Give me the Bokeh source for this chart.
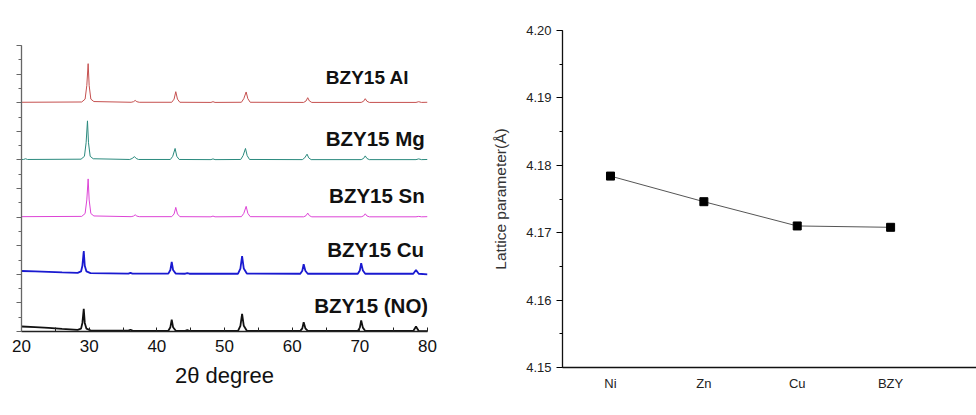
from bokeh.plotting import figure
from bokeh.layouts import row, column
from bokeh.models import Label, SingleIntervalTicker, FixedTicker, Range1d, CustomLabelingPolicy
from bokeh.embed import file_html
from bokeh.resources import INLINE

# ---------------- data: XRD patterns (2theta, intensity above own baseline) ----------------
tt_al = [20, 28.9, 29.4, 29.65, 29.85, 30.0, 30.25, 30.7, 36.2, 36.55, 36.8, 37.05, 37.4,
         42.2, 42.55, 42.8, 43.05, 43.4, 48.0, 48.3, 48.6, 52.5, 52.85, 53.2, 53.45, 53.8,
         61.7, 62.05, 62.3, 62.55, 62.9, 70.2, 70.55, 70.8, 71.05, 71.4, 78.3, 78.7, 79.1, 80]
int_al = [0.03, 0.05, 0.25, 1.2, 2.73, 1.2, 0.25, 0.08, 0.03, 0.07, 0.16, 0.07, 0.03,
          0.03, 0.25, 0.77, 0.25, 0.03, 0.02, 0.07, 0.02, 0.03, 0.28, 0.75, 0.28, 0.03,
          0.02, 0.12, 0.35, 0.12, 0.02, 0.02, 0.1, 0.28, 0.1, 0.02, 0.02, 0.07, 0.02, 0.03]

tt_mg = [20, 20.3, 20.6, 20.9, 28.8, 29.3, 29.55, 29.75, 29.9, 30.15, 30.6, 36.0, 36.35, 36.7,
         36.95, 37.3, 42.0, 42.35, 42.7, 42.95, 43.3, 48.0, 48.3, 48.6, 52.4, 52.75, 53.1, 53.35,
         53.7, 61.5, 61.85, 62.2, 62.45, 62.8, 70.2, 70.55, 70.8, 71.05, 71.4, 78.3, 78.7, 79.1, 80]
int_mg = [0.03, 0.03, 0.08, 0.03, 0.05, 0.25, 1.2, 2.73, 1.2, 0.25, 0.08, 0.03, 0.1, 0.23,
          0.1, 0.03, 0.03, 0.25, 0.8, 0.25, 0.03, 0.02, 0.07, 0.02, 0.03, 0.3, 0.8, 0.3,
          0.03, 0.02, 0.14, 0.4, 0.14, 0.02, 0.02, 0.1, 0.28, 0.1, 0.02, 0.02, 0.07, 0.02, 0.03]

tt_sn = [20, 28.9, 29.4, 29.65, 29.85, 30.0, 30.25, 30.7, 36.2, 36.55, 36.8, 37.05, 37.4,
         42.2, 42.55, 42.8, 43.05, 43.4, 48.0, 48.3, 48.6, 52.5, 52.85, 53.2, 53.45, 53.8,
         61.7, 62.05, 62.3, 62.55, 62.9, 70.2, 70.55, 70.8, 71.05, 71.4, 78.3, 78.7, 79.1, 80]
int_sn = [0.03, 0.05, 0.25, 1.2, 2.67, 1.2, 0.25, 0.08, 0.03, 0.07, 0.16, 0.07, 0.03,
          0.03, 0.22, 0.68, 0.22, 0.03, 0.02, 0.07, 0.02, 0.03, 0.26, 0.75, 0.26, 0.03,
          0.02, 0.1, 0.28, 0.1, 0.02, 0.02, 0.08, 0.23, 0.08, 0.02, 0.02, 0.05, 0.02, 0.03]

tt_cu = [20, 22, 24, 26, 28.3, 28.8, 29.0, 29.2, 29.35, 29.6, 30.2, 35.8, 36.1, 36.4,
         41.7, 42.0, 42.2, 42.4, 42.8, 44.2, 44.5, 44.8, 52.0, 52.35, 52.6, 52.85, 53.3,
         61.2, 61.5, 61.7, 61.95, 62.3, 69.7, 70.0, 70.2, 70.45, 70.8, 77.9, 78.3, 78.7, 80]
int_cu = [0.23, 0.2, 0.17, 0.13, 0.1, 0.2, 0.6, 1.63, 0.6, 0.2, 0.08, 0.05, 0.1, 0.05,
          0.05, 0.3, 0.86, 0.3, 0.05, 0.04, 0.08, 0.04, 0.04, 0.4, 1.28, 0.4, 0.05,
          0.04, 0.25, 0.7, 0.25, 0.04, 0.04, 0.27, 0.77, 0.27, 0.04, 0.04, 0.3, 0.04, 0.0]

tt_no = [20, 22, 24, 26, 28.3, 28.8, 29.0, 29.2, 29.35, 29.6, 30.2, 35.8, 36.1, 36.4,
         41.7, 42.0, 42.2, 42.4, 42.8, 44.2, 44.5, 44.8, 52.0, 52.35, 52.6, 52.85, 53.3,
         61.2, 61.5, 61.7, 61.95, 62.3, 69.7, 70.0, 70.2, 70.45, 70.8, 77.9, 78.3, 78.7, 80]
int_no = [0.35, 0.3, 0.25, 0.18, 0.12, 0.2, 0.6, 1.58, 0.6, 0.2, 0.08, 0.06, 0.12, 0.06,
          0.05, 0.3, 0.82, 0.3, 0.05, 0.05, 0.1, 0.05, 0.04, 0.4, 1.24, 0.4, 0.05,
          0.04, 0.22, 0.65, 0.22, 0.04, 0.04, 0.27, 0.77, 0.27, 0.04, 0.04, 0.35, 0.04, 0.02]

sample_names = ["BZY15 Al", "BZY15 Mg", "BZY15 Sn", "BZY15 Cu", "BZY15 (NO)"]
x_ticks = [20, 30, 40, 50, 60, 70, 80]

# ---------------- data: lattice parameter ----------------
dopants = ["Ni", "Zn", "Cu", "BZY"]
lattice = [4.1784, 4.1746, 4.1710, 4.1708]

FONT = "Liberation Sans"

# ---------------- left panel ----------------
p1 = figure(width=480, height=415, output_backend="svg", toolbar_location=None,
            x_range=Range1d(20, 80), y_range=Range1d(0, 20),
            min_border_left=21, min_border_right=53, min_border_top=45, min_border_bottom=84)
p1.outline_line_color = None
p1.grid.visible = False

series = [(tt_al, int_al, "#c5504f", 1.0), (tt_mg, int_mg, "#2b8a7e", 1.0),
          (tt_sn, int_sn, "#dd44d6", 1.0), (tt_cu, int_cu, "#1a1ad0", 1.8),
          (tt_no, int_no, "#111111", 1.8)]
offsets = [16, 12, 8, 4, 0]
for (xs, ys, col, lw), off in zip(series, offsets):
    p1.line(xs, [v + off for v in ys], line_color=col, line_width=lw)

label_style = [(77.3, 17.76, "19px"), (79.6, 13.5, "20.5px"), (79.6, 9.5, "20.5px"),
               (79.5, 5.75, "20.5px"), (80.1, 1.82, "20.5px")]
for name, (lx, ly, fs) in zip(sample_names, label_style):
    p1.add_layout(Label(x=lx, y=ly, text=name, text_align="right", text_baseline="middle",
                        text_font=FONT, text_font_style="bold", text_font_size=fs,
                        text_color="#111111"))

p1.xaxis.ticker = FixedTicker(ticks=x_ticks, minor_ticks=[25, 35, 45, 55, 65, 75])
p1.xaxis.axis_label = "2θ degree"
p1.xaxis.axis_label_text_font = FONT
p1.xaxis.axis_label_text_font_style = "normal"
p1.xaxis.axis_label_text_font_size = "22px"
p1.xaxis.axis_label_text_color = "#111111"
p1.xaxis.axis_label_standoff = 8
p1.xaxis.major_label_text_font = FONT
p1.xaxis.major_label_text_font_size = "17px"
p1.xaxis.major_label_text_color = "#111111"
p1.xaxis.major_label_standoff = 8
p1.xaxis.major_tick_in = 4
p1.xaxis.major_tick_out = 0
p1.xaxis.minor_tick_in = 4
p1.xaxis.minor_tick_out = 0
p1.xaxis.axis_line_color = "#222222"
p1.xaxis.major_tick_line_color = "#222222"
p1.xaxis.minor_tick_line_color = "#222222"
p1.xaxis.axis_line_width = 1.3

p1.yaxis.ticker = SingleIntervalTicker(interval=2, num_minor_ticks=2)
p1.yaxis.major_label_policy = CustomLabelingPolicy(
    code="for (const i of indices) { indices.unset(i) }\nreturn indices")
p1.yaxis.major_label_standoff = 0
p1.yaxis.major_tick_out = 5
p1.yaxis.major_tick_in = 0
p1.yaxis.minor_tick_out = 3
p1.yaxis.minor_tick_in = 0
p1.yaxis.axis_line_color = "#666666"
p1.yaxis.major_tick_line_color = "#666666"
p1.yaxis.minor_tick_line_color = "#666666"
p1.yaxis.axis_line_width = 1.3

# ---------------- right panel ----------------
p2 = figure(width=496, height=415, output_backend="svg", toolbar_location=None,
            x_range=Range1d(-0.514, 3.92), y_range=Range1d(4.15, 4.20),
            min_border_left=82, min_border_right=0, min_border_top=30, min_border_bottom=48)
p2.outline_line_color = None
p2.grid.visible = False
xs2 = list(range(len(dopants)))
p2.line(xs2, lattice, line_color="#555555", line_width=1)
p2.scatter(xs2, lattice, marker="square", size=8, fill_color="black", line_color="black")

p2.xaxis.ticker = FixedTicker(ticks=xs2)
p2.xaxis.major_label_overrides = {i: d for i, d in zip(xs2, dopants)}
p2.xaxis.major_tick_in = 0
p2.xaxis.major_tick_out = 0
p2.xaxis.minor_tick_line_color = None
p2.xaxis.major_label_text_font = FONT
p2.xaxis.major_label_text_font_size = "13px"
p2.xaxis.major_label_text_color = "#222222"
p2.xaxis.major_label_standoff = 8
p2.xaxis.axis_line_color = "#111111"
p2.xaxis.axis_line_width = 1.3

p2.yaxis.ticker = SingleIntervalTicker(interval=0.01, num_minor_ticks=2)
p2.yaxis.major_label_overrides = {4.15: "4.15", 4.16: "4.16", 4.17: "4.17",
                                  4.18: "4.18", 4.19: "4.19", 4.2: "4.20"}
p2.yaxis.major_tick_out = 6
p2.yaxis.major_tick_in = 0
p2.yaxis.minor_tick_out = 3
p2.yaxis.minor_tick_in = 0
p2.yaxis.major_label_text_font = FONT
p2.yaxis.major_label_text_font_size = "13px"
p2.yaxis.major_label_text_color = "#222222"
p2.yaxis.major_label_standoff = 5
p2.yaxis.axis_label = "Lattice parameter(Å)"
p2.yaxis.axis_label_text_font = FONT
p2.yaxis.axis_label_text_font_style = "normal"
p2.yaxis.axis_label_text_font_size = "15.5px"
p2.yaxis.axis_label_text_color = "#333333"
p2.yaxis.axis_label_standoff = 14
p2.yaxis.axis_line_color = "#111111"
p2.yaxis.axis_line_width = 1.3

layout = row(column(p1), column(p2), spacing=0)
open("out.html", "w").write(file_html(layout, INLINE))
